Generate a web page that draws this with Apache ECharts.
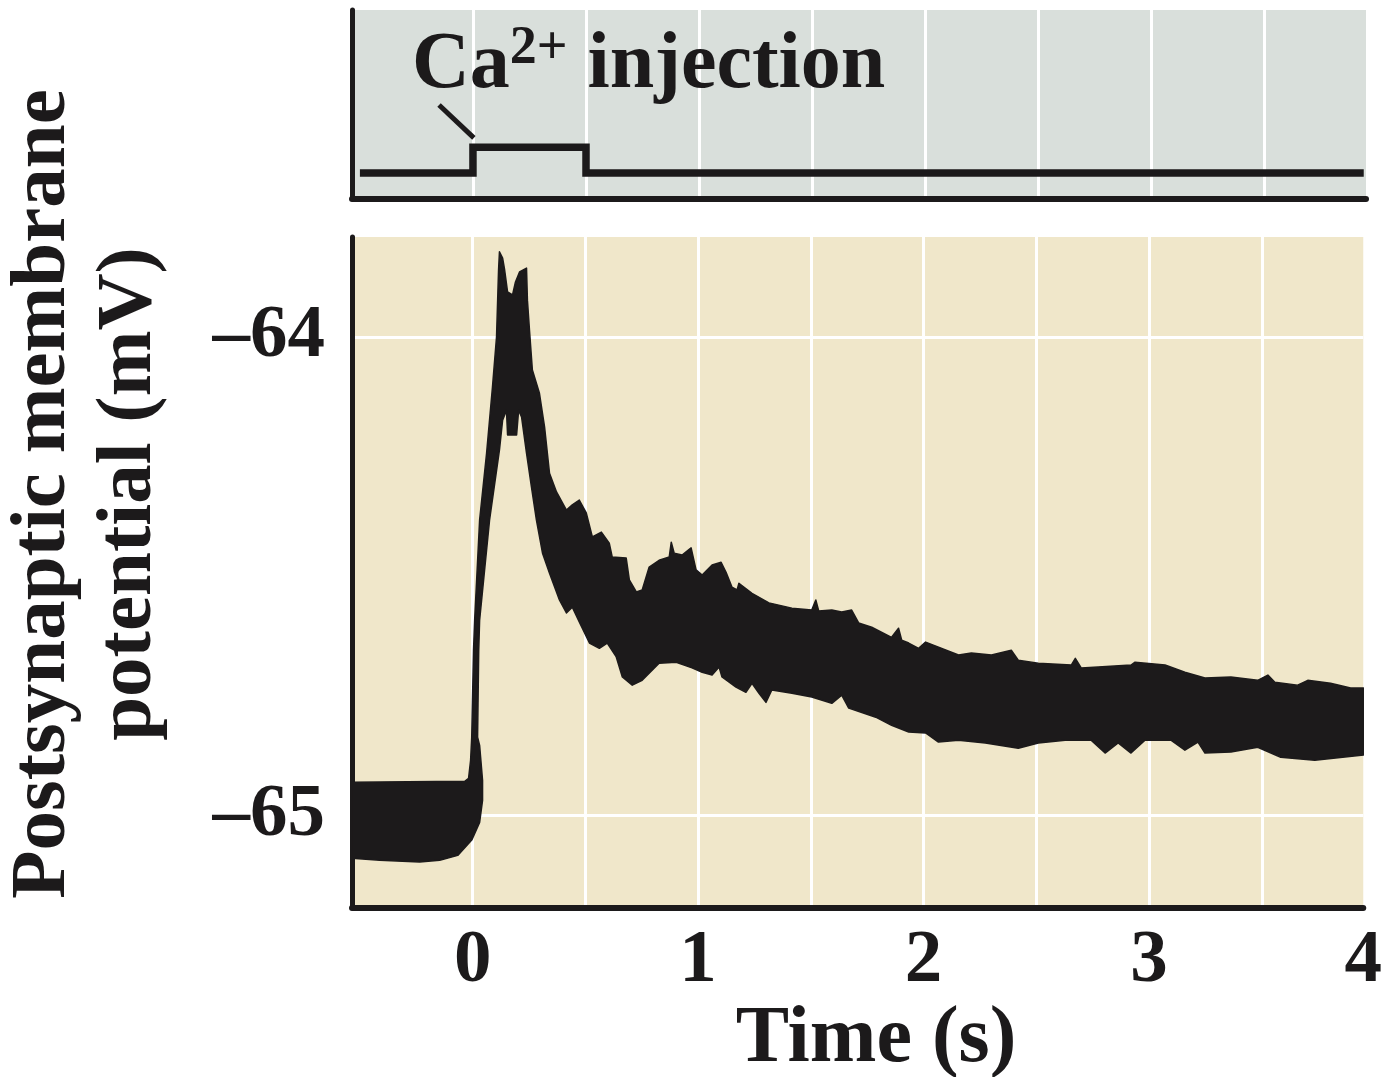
<!DOCTYPE html>
<html>
<head>
<meta charset="utf-8">
<script src="https://cdn.jsdelivr.net/npm/echarts@6/dist/echarts.min.js"></script>
<style>
html,body{margin:0;padding:0;background:#fff;}
#chart{width:1385px;height:1077px;}
</style>
</head>
<body>
<div id="chart"></div>
<script>
// ---- axis ranges ----
const X_MIN = -0.535, X_MAX = 3.95;
const Y_MIN = -65.194, Y_MAX = -63.791;
const xGridValues = [0, 0.5, 1, 1.5, 2, 2.5, 3, 3.5];
const xTickValues = [0, 1, 2, 3, 4];
const xTickLabels = ['0', '1', '2', '3', '4'];
const yTickValues = [-65, -64];
const yTickLabels = ['\u201365', '\u201364'];

// ---- Ca2+ injection command (top panel) ----
const stepT = [-0.5, 0, 0, 0.5, 0.5, 3.94];
const stepV = [0, 0, 1, 1, 0, 0];
const leaderT = [-0.15, 0.004];
const leaderV = [2.63, 1.36];

// ---- membrane potential trace envelope (mV) ----
const upperT = [-0.535,-0.035,-0.018,-0.009,-0.004,0.004,0.009,0.031,0.062,0.088,0.106,0.115,0.119,0.133,0.142,0.155,0.177,0.190,0.208,0.239,0.243,0.252,0.265,0.296,0.319,0.341,0.372,0.416,0.442,0.473,0.504,0.531,0.571,0.606,0.619,0.681,0.695,0.726,0.752,0.783,0.827,0.872,0.881,0.894,0.929,0.969,0.991,1.018,1.062,1.102,1.124,1.150,1.173,1.181,1.239,1.314,1.416,1.504,1.522,1.535,1.593,1.637,1.681,1.712,1.770,1.858,1.889,1.903,1.934,1.978,2.009,2.155,2.212,2.301,2.389,2.420,2.509,2.655,2.673,2.699,2.774,2.920,2.938,3.071,3.159,3.248,3.363,3.482,3.527,3.558,3.659,3.704,3.805,3.894,3.951];
const upperV = [-64.931,-64.929,-64.923,-64.885,-64.837,-64.655,-64.592,-64.383,-64.243,-64.105,-64.000,-63.860,-63.822,-63.835,-63.860,-63.906,-63.912,-63.885,-63.864,-63.856,-63.923,-63.985,-64.069,-64.117,-64.188,-64.285,-64.324,-64.362,-64.351,-64.341,-64.368,-64.418,-64.408,-64.431,-64.460,-64.462,-64.508,-64.533,-64.529,-64.481,-64.467,-64.460,-64.429,-64.452,-64.456,-64.441,-64.487,-64.498,-64.477,-64.471,-64.492,-64.523,-64.529,-64.515,-64.536,-64.556,-64.567,-64.571,-64.550,-64.573,-64.571,-64.575,-64.571,-64.598,-64.607,-64.628,-64.609,-64.634,-64.640,-64.651,-64.638,-64.665,-64.661,-64.665,-64.655,-64.676,-64.682,-64.686,-64.672,-64.692,-64.690,-64.686,-64.680,-64.686,-64.701,-64.713,-64.711,-64.718,-64.707,-64.722,-64.728,-64.718,-64.724,-64.734,-64.734];
const lowerT = [-0.535,-0.412,-0.235,-0.146,-0.066,-0.004,0.031,0.044,0.044,0.031,0.022,0.027,0.031,0.075,0.119,0.133,0.150,0.155,0.195,0.204,0.217,0.239,0.261,0.283,0.310,0.341,0.385,0.416,0.442,0.473,0.518,0.562,0.597,0.637,0.664,0.708,0.752,0.827,0.903,0.973,1.018,1.062,1.093,1.106,1.168,1.212,1.239,1.270,1.301,1.327,1.416,1.504,1.593,1.637,1.668,1.788,1.858,1.934,2.009,2.066,2.155,2.274,2.420,2.509,2.628,2.743,2.805,2.863,2.920,2.982,3.097,3.159,3.217,3.248,3.363,3.482,3.584,3.735,3.951];
const lowerV = [-65.090,-65.094,-65.098,-65.094,-65.084,-65.052,-65.015,-64.969,-64.927,-64.854,-64.837,-64.655,-64.592,-64.383,-64.236,-64.174,-64.153,-64.205,-64.205,-64.153,-64.167,-64.243,-64.314,-64.383,-64.452,-64.494,-64.550,-64.577,-64.565,-64.596,-64.640,-64.651,-64.640,-64.669,-64.711,-64.728,-64.718,-64.682,-64.680,-64.692,-64.701,-64.707,-64.690,-64.711,-64.732,-64.743,-64.724,-64.745,-64.764,-64.738,-64.745,-64.753,-64.766,-64.749,-64.776,-64.795,-64.812,-64.826,-64.828,-64.847,-64.843,-64.849,-64.860,-64.849,-64.843,-64.843,-64.870,-64.849,-64.870,-64.843,-64.843,-64.864,-64.847,-64.870,-64.868,-64.858,-64.879,-64.885,-64.874];

const INK = '#1c1a1b';
const FONT = "'Liberation Serif', 'DejaVu Serif', serif";

const chart = echarts.init(document.getElementById('chart'), null, {renderer: 'canvas'});

const stepData = stepT.map((t, i) => [t, stepV[i]]);

const option = {
  animation: false,
  backgroundColor: '#ffffff',
  grid: [
    {left: 352, top: 10, width: 1014, height: 189, show: true, backgroundColor: '#d9dfdb', borderWidth: 0},
    {left: 352, top: 237, width: 1014, height: 671, show: true, backgroundColor: '#f0e7ca', borderWidth: 0}
  ],
  xAxis: [
    {
      gridIndex: 0, type: 'value', min: X_MIN, max: X_MAX,
      axisLine: {show: true, onZero: false, lineStyle: {color: INK, width: 6}},
      axisTick: {show: false, customValues: xGridValues},
      axisLabel: {show: false},
      splitLine: {show: true, lineStyle: {color: '#ffffff', width: 3}}
    },
    {
      gridIndex: 1, type: 'value', min: X_MIN, max: X_MAX,
      axisLine: {show: true, onZero: false, lineStyle: {color: INK, width: 6}},
      axisTick: {show: false, customValues: xGridValues},
      axisLabel: {
        show: true,
        customValues: xTickValues.map(v => Math.min(v, X_MAX)),
        formatter: (v) => xTickLabels[xTickValues.indexOf(Math.round(v))],
        color: INK, fontFamily: FONT, fontWeight: 'bold', fontSize: 75, margin: 16
      },
      splitLine: {show: true, lineStyle: {color: '#ffffff', width: 3}}
    }
  ],
  yAxis: [
    {
      gridIndex: 0, type: 'value', min: -1, max: 6.3,
      axisLine: {show: true, onZero: false, lineStyle: {color: INK, width: 5}},
      axisTick: {show: false}, axisLabel: {show: false}, splitLine: {show: false}
    },
    {
      gridIndex: 1, type: 'value', min: Y_MIN, max: Y_MAX,
      axisLine: {show: true, onZero: false, lineStyle: {color: INK, width: 5}},
      axisTick: {show: false, customValues: yTickValues},
      axisLabel: {
        show: true, customValues: yTickValues,
        formatter: (v) => yTickLabels[yTickValues.indexOf(Math.round(v))],
        color: INK, fontFamily: FONT, fontWeight: 'bold', fontSize: 75, margin: 27
      },
      splitLine: {show: true, lineStyle: {color: '#ffffff', width: 3}}
    }
  ],
  series: [
    {
      type: 'line', xAxisIndex: 0, yAxisIndex: 0, data: stepData,
      showSymbol: false, symbol: 'none',
      lineStyle: {color: INK, width: 7.5, join: 'miter', cap: 'butt'},
      markLine: {
        silent: true, symbol: 'none', label: {show: false},
        lineStyle: {color: INK, width: 5, type: 'solid'},
        data: [[{coord: [leaderT[0], leaderV[0]]}, {coord: [leaderT[1], leaderV[1]]}]]
      },
      z: 3
    },
    {
      type: 'custom', xAxisIndex: 1, yAxisIndex: 1, data: [[0, -64.5]], clip: true,
      renderItem: function (params, api) {
        if (params.dataIndex !== 0) return null;
        const pts = [];
        for (let i = 0; i < upperT.length; i++) pts.push(api.coord([upperT[i], upperV[i]]));
        for (let i = lowerT.length - 1; i >= 0; i--) pts.push(api.coord([lowerT[i], lowerV[i]]));
        return {type: 'polygon', shape: {points: pts}, style: {fill: INK, stroke: INK, lineWidth: 1.5, lineJoin: 'round'}};
      },
      z: 3
    }
  ],
  graphic: [
    {
      type: 'text', left: 412, top: 22, z: 10,
      style: {
        text: '{a|Ca}{s|2+}{a| injection}',
        rich: {
          a: {fontFamily: FONT, fontWeight: 'bold', fontSize: 80, fill: INK, verticalAlign: 'bottom'},
          s: {fontFamily: FONT, fontWeight: 'bold', fontSize: 54, fill: INK, verticalAlign: 'top', padding: [0, 0, 30, 0]}
        }
      }
    },
    {
      type: 'text', x: 87, y: 494, rotation: Math.PI / 2, z: 10,
      style: {
        text: 'Postsynaptic membrane\npotential (mV)',
        fontFamily: FONT, fontWeight: 'bold', fontSize: 79, lineHeight: 86,
        fill: INK, align: 'center', verticalAlign: 'middle'
      }
    },
    {
      type: 'text', x: 876, y: 1040, z: 10,
      style: {
        text: 'Time (s)',
        fontFamily: FONT, fontWeight: 'bold', fontSize: 80,
        fill: INK, align: 'center', verticalAlign: 'middle'
      }
    }
  ]
};
chart.setOption(option);
</script>
</body>
</html>
